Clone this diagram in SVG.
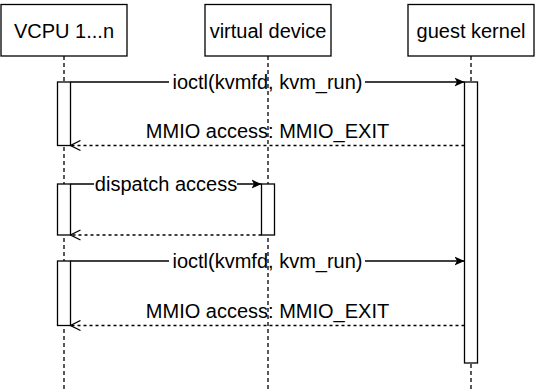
<svg xmlns="http://www.w3.org/2000/svg" width="535" height="390" viewBox="0 0 535 390">
<defs>
<style>
.box{fill:#fff;stroke:#000;stroke-width:1.3}
.bar{fill:#fff;stroke:#000;stroke-width:1.3}
.life{stroke:#000;stroke-width:1.3;stroke-dasharray:4 3;fill:none}
.msg{stroke:#000;stroke-width:1.3;fill:none}
.ret{stroke:#000;stroke-width:1.3;fill:none;stroke-dasharray:3 3}
.t{font-family:"Liberation Sans",Arial,sans-serif;font-size:20px;fill:#000;text-anchor:middle}
.lblbg{fill:#fff}
</style>
<marker id="fill" viewBox="0 0 10 10" refX="10" refY="5" markerWidth="10" markerHeight="10" markerUnits="userSpaceOnUse" orient="auto">
<path d="M10,5 L0,0.5 L2.5,5 L0,9.5 Z" fill="#000"/>
</marker>
<marker id="open" viewBox="0 0 12 12" refX="11" refY="6" markerWidth="12" markerHeight="12" markerUnits="userSpaceOnUse" orient="auto">
<path d="M1,1 L11,6 L1,11" fill="none" stroke="#000" stroke-width="1.3"/>
</marker>
</defs>
<rect width="535" height="390" fill="#fff"/>
<g id="connectors">
<line class="msg" x1="70.5" y1="82" x2="464.5" y2="82" marker-end="url(#fill)"/>
<rect class="lblbg" x="169" y="71" width="196" height="23"/>
<text class="t" x="267.5" y="89">ioctl(kvmfd, kvm_run)</text>
<line class="ret" x1="464.5" y1="145.5" x2="70.5" y2="145.5" marker-end="url(#open)"/>
<text class="t" x="267.5" y="137.5">MMIO access: MMIO_EXIT</text>
<line class="msg" x1="70.5" y1="184" x2="261.5" y2="184" marker-end="url(#fill)"/>
<rect class="lblbg" x="94" y="173" width="143" height="23"/>
<text class="t" x="166" y="191">dispatch access</text>
<line class="ret" x1="261.5" y1="235" x2="70.5" y2="235" marker-end="url(#open)"/>
<line class="msg" x1="70.5" y1="261" x2="464.5" y2="261" marker-end="url(#fill)"/>
<rect class="lblbg" x="169" y="250" width="196" height="23"/>
<text class="t" x="267.5" y="268">ioctl(kvmfd, kvm_run)</text>
<line class="ret" x1="464.5" y1="325.5" x2="70.5" y2="325.5" marker-end="url(#open)"/>
<text class="t" x="267.5" y="317.5">MMIO access: MMIO_EXIT</text>
</g>
<g id="vcpu">
<line class="life" x1="64" y1="56" x2="64" y2="390"/>
<rect class="bar" x="57.5" y="82" width="13" height="63.5"/>
<rect class="bar" x="57.5" y="184" width="13" height="51"/>
<rect class="bar" x="57.5" y="261" width="13" height="64.5"/>
<rect class="box" x="1" y="4.5" width="126" height="51.5"/>
<text class="t" x="64" y="38">VCPU 1...n</text>
</g>
<g id="virtual-device">
<line class="life" x1="268" y1="56" x2="268" y2="390"/>
<rect class="bar" x="261.5" y="184" width="13" height="51"/>
<rect class="box" x="205" y="4.5" width="126" height="51.5"/>
<text class="t" x="268" y="38">virtual device</text>
</g>
<g id="guest-kernel">
<line class="life" x1="471" y1="56" x2="471" y2="390"/>
<rect class="bar" x="464.5" y="82" width="13" height="281"/>
<rect class="box" x="408" y="4.5" width="126" height="51.5"/>
<text class="t" x="471" y="38">guest kernel</text>
</g>
</svg>
